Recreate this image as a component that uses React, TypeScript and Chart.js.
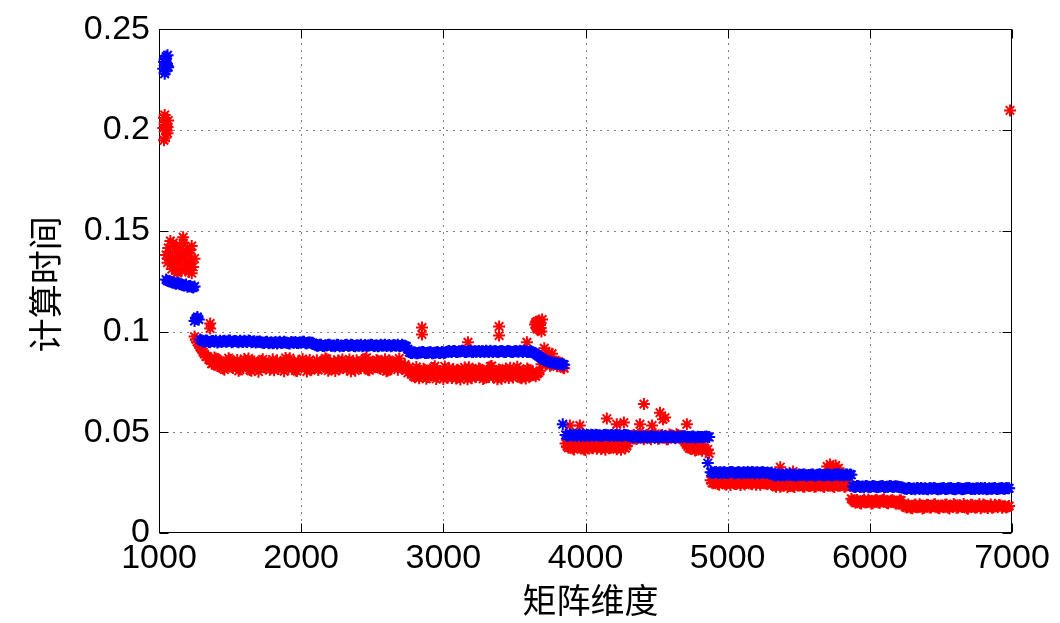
import React, { useEffect, useRef } from 'react';
import { Chart, registerables } from 'chart.js';

Chart.register(...registerables);

// Matrix dimension grids of the two interleaved sweeps (one sample per 20 each)
const DIM_START_A = 1040;
const DIM_START_B = 1050;
const DIM_STEP = 20;

const xTickValues = [1000, 2000, 3000, 4000, 5000, 6000, 7000];
const yTickValues = [0, 0.05, 0.1, 0.15, 0.2, 0.25];

const xTitle = '矩阵维度';
const yTitle = '计算时间';

// Blue series, sweep A: dims 1040, 1060, ... 6980
const blueTimesA = [
  0.2352, 0.2318,
  0.1248, 0.1244, 0.1237, 0.124, 0.1232, 0.1229, 0.1223, 0.1226, 0.1219,
  0.1064, 0.106,
  0.0957, 0.095, 0.0954, 0.0947, 0.0953, 0.0956, 0.0949, 0.0948, 0.0954, 0.0951,
  0.0955, 0.0949, 0.0953, 0.0947, 0.0951, 0.0954, 0.0948, 0.0953, 0.095, 0.0946,
  0.0949,
  0.0947, 0.0943, 0.0949, 0.0945, 0.0942, 0.0948, 0.0946, 0.0943, 0.0949, 0.0945,
  0.0941, 0.0946, 0.0948, 0.0943, 0.0945, 0.0949, 0.0942, 0.0946, 0.0944,
  0.0933, 0.093, 0.0935, 0.0928, 0.0931, 0.0934, 0.093, 0.0927, 0.0933, 0.0931,
  0.0928, 0.0934, 0.093, 0.0933, 0.0927, 0.0931, 0.0935, 0.093, 0.0928, 0.0931,
  0.0933, 0.093, 0.0927, 0.0934, 0.0931, 0.0928, 0.0933, 0.093, 0.0931, 0.0934,
  0.0928, 0.093, 0.0926,
  0.0898, 0.0893, 0.0896, 0.0892, 0.0895, 0.0899, 0.0893, 0.0896, 0.0892, 0.0895,
  0.0898, 0.0893, 0.0896, 0.0899,
  0.0903, 0.0899, 0.0904, 0.0898, 0.0901, 0.0905, 0.0899, 0.0902, 0.0898, 0.0904,
  0.0901, 0.0899, 0.0902, 0.0905, 0.0898, 0.0901, 0.0904, 0.0899, 0.0902, 0.0901,
  0.0898, 0.0904, 0.0899, 0.0902, 0.0901, 0.0905, 0.0899, 0.0902, 0.0898, 0.0901,
  0.0893, 0.0884, 0.0873, 0.0864, 0.0856, 0.0851, 0.0847, 0.0844, 0.0841, 0.0839,
  0.0837,
  0.0487, 0.0483, 0.0488, 0.0485, 0.0482, 0.0486, 0.0489, 0.0483, 0.0485, 0.0488,
  0.0482, 0.0486, 0.0485, 0.0483, 0.0488, 0.0485, 0.0486, 0.0482, 0.0485, 0.0488,
  0.0483, 0.0486, 0.0484,
  0.0479, 0.0475, 0.048, 0.0477, 0.0474, 0.0479, 0.0476, 0.048, 0.0477, 0.0478,
  0.0474, 0.0477, 0.048, 0.0475, 0.0479, 0.0477, 0.0474, 0.0478, 0.0475, 0.048,
  0.0477, 0.0475, 0.0479, 0.0474, 0.0477, 0.0476, 0.0478, 0.0477,
  0.0302, 0.0298, 0.0303, 0.03, 0.0297, 0.0302, 0.0298, 0.0303, 0.03, 0.0298,
  0.0302, 0.0297, 0.03, 0.0303, 0.0298, 0.0302, 0.03, 0.0297, 0.0302, 0.0298,
  0.03, 0.0297,
  0.029, 0.0286, 0.0291, 0.0288, 0.0285, 0.029, 0.0292, 0.0287, 0.0286, 0.0291,
  0.0288, 0.029, 0.0285, 0.0288, 0.0291, 0.0286, 0.029, 0.0288, 0.0285, 0.0291,
  0.0288, 0.0286, 0.029, 0.0292, 0.0288, 0.0286, 0.029, 0.0291,
  0.0232, 0.0228, 0.0233, 0.023, 0.0227, 0.0232, 0.0228, 0.0233, 0.023, 0.0228,
  0.0232, 0.0227, 0.023, 0.0233, 0.0228, 0.0232, 0.023, 0.0227,
  0.0222, 0.0218, 0.0223, 0.022, 0.0217, 0.0222, 0.0224, 0.022, 0.0218, 0.0223,
  0.022, 0.0222, 0.0217, 0.022, 0.0223, 0.0218, 0.0222, 0.022, 0.0217, 0.0223,
  0.022, 0.0218, 0.0222, 0.0224, 0.022, 0.0218, 0.0222, 0.0223, 0.022, 0.0217,
  0.0222, 0.022, 0.0223, 0.0218, 0.0222, 0.022, 0.0223, 0.0222,
];

// Blue series, sweep B: dims 1050, 1070, ... 6970
const blueTimesB = [
  0.2335, 0.125,
  0.1245, 0.124, 0.1242, 0.1235, 0.123, 0.1233, 0.1225, 0.1221, 0.1224,
  0.1066, 0.096,
  0.0951, 0.0955, 0.0948, 0.0953, 0.095, 0.0946, 0.0954, 0.0952, 0.0949, 0.0955,
  0.0947, 0.0953, 0.095, 0.0954, 0.0948, 0.0951, 0.0955, 0.0947, 0.0952, 0.0949,
  0.0951,
  0.0944, 0.0948, 0.0942, 0.0947, 0.0945, 0.0941, 0.0949, 0.0944, 0.0946, 0.0942,
  0.0948, 0.0945, 0.0943, 0.0947, 0.0949, 0.0942, 0.0946, 0.0944, 0.094,
  0.093, 0.0934, 0.0928, 0.0932, 0.0935, 0.0929, 0.0931, 0.0934, 0.0927, 0.093,
  0.0933, 0.0929, 0.0935, 0.0928, 0.0932, 0.093, 0.0927, 0.0933, 0.0931, 0.0935,
  0.0928, 0.0932, 0.093, 0.0929, 0.0934, 0.0931, 0.0927, 0.0933, 0.093, 0.0928,
  0.0934, 0.0929, 0.0912,
  0.0894, 0.0897, 0.0892, 0.0896, 0.0899, 0.0893, 0.0895, 0.0898, 0.0892, 0.0896,
  0.0894, 0.0898, 0.0893, 0.0901,
  0.09, 0.0904, 0.0898, 0.0902, 0.0905, 0.0899, 0.0901, 0.0903, 0.0898, 0.09,
  0.0904, 0.0902, 0.0899, 0.0901, 0.0905, 0.0898, 0.0902, 0.09, 0.0903, 0.0899,
  0.0904, 0.0901, 0.0898, 0.0903, 0.09, 0.0902, 0.0905, 0.0899, 0.0901, 0.0897,
  0.0889, 0.0878, 0.0868, 0.086, 0.0853, 0.0849, 0.0845, 0.0842, 0.084, 0.0838,
  0.0835,
  0.0484, 0.0488, 0.0483, 0.0486, 0.0489, 0.0482, 0.0485, 0.0487, 0.0483, 0.0486,
  0.0488, 0.0484, 0.0482, 0.0487, 0.0485, 0.0483, 0.0488, 0.0486, 0.0484, 0.0482,
  0.0487, 0.0485, 0.0481,
  0.0476, 0.0479, 0.0474, 0.0478, 0.048, 0.0475, 0.0477, 0.0479, 0.0474, 0.0476,
  0.048, 0.0478, 0.0475, 0.0477, 0.0479, 0.0474, 0.0478, 0.0476, 0.048, 0.0475,
  0.0477, 0.0479, 0.0474, 0.0478, 0.0476, 0.0475, 0.0479, 0.0476,
  0.0299, 0.0303, 0.0297, 0.0301, 0.0302, 0.0298, 0.03, 0.0303, 0.0297, 0.0301,
  0.0299, 0.0302, 0.0298, 0.03, 0.0303, 0.0297, 0.0301, 0.0299, 0.0302, 0.0298,
  0.0296, 0.03,
  0.0287, 0.0291, 0.0286, 0.0289, 0.0292, 0.0287, 0.0288, 0.029, 0.0285, 0.0289,
  0.0291, 0.0287, 0.0288, 0.029, 0.0286, 0.0289, 0.0292, 0.0287, 0.0288, 0.029,
  0.0286, 0.0289, 0.0291, 0.0287, 0.0288, 0.029, 0.0286, 0.0289,
  0.0229, 0.0233, 0.0228, 0.0231, 0.0233, 0.0229, 0.023, 0.0232, 0.0227, 0.0231,
  0.0233, 0.0228, 0.023, 0.0232, 0.0229, 0.0231, 0.0227, 0.0226,
  0.022, 0.0223, 0.0218, 0.0221, 0.0223, 0.0219, 0.022, 0.0222, 0.0217, 0.0221,
  0.0223, 0.0219, 0.022, 0.0222, 0.0218, 0.0221, 0.0223, 0.0219, 0.022, 0.0222,
  0.0217, 0.0221, 0.0223, 0.0218, 0.022, 0.0222, 0.0219, 0.0221, 0.0223, 0.0218,
  0.022, 0.0222, 0.0219, 0.0221, 0.0223, 0.022, 0.0222,
];

// Red series, sweep A: dims 1040, 1060, ... 6980
const redTimesA = [
  0.2038, 0.1985,
  0.1392, 0.1331, 0.1418, 0.1356, 0.1302, 0.1375, 0.1338, 0.1405, 0.1321,
  0.0962, 0.0935, 0.0912, 0.0888,
  0.0876, 0.0858, 0.0843, 0.0866, 0.0828, 0.0851, 0.0811, 0.0838, 0.086, 0.0819,
  0.0845, 0.0805, 0.0836, 0.0864, 0.0824, 0.0809, 0.085, 0.0833, 0.0801, 0.0855,
  0.0823, 0.0842, 0.081, 0.0862, 0.083, 0.0814, 0.0847, 0.0803, 0.0837, 0.0868,
  0.082, 0.0807, 0.0853, 0.0826, 0.0843, 0.0802, 0.0859, 0.0817, 0.0834, 0.0809,
  0.0849, 0.0825, 0.0863, 0.0813, 0.0839, 0.0804, 0.0856, 0.0822, 0.0844, 0.0812,
  0.0861, 0.0831, 0.0806, 0.0848, 0.0818, 0.0837, 0.087, 0.0808, 0.0841, 0.0824,
  0.0854, 0.0815, 0.0835, 0.0803, 0.0858, 0.0821, 0.0845, 0.0811, 0.0838, 0.0823,
  0.0808,
  0.0821, 0.079, 0.0773, 0.0807, 0.078, 0.0815, 0.0766, 0.0799, 0.0785, 0.0828,
  0.0776, 0.0803, 0.0764, 0.0793, 0.0818, 0.077, 0.0788, 0.081, 0.0762, 0.0797,
  0.0778, 0.0823, 0.0768, 0.0805, 0.0784, 0.0813, 0.0765, 0.0798, 0.0775, 0.0829,
  0.0789, 0.0763, 0.0808, 0.0781, 0.0817, 0.0769, 0.08, 0.0787, 0.0825, 0.0772,
  0.0804, 0.0767, 0.0811, 0.0782,
  0.0785, 0.079, 0.0805, 0.0855, 0.0842, 0.0868, 0.0835, 0.0852, 0.0828, 0.0845,
  0.0822,
  0.0444, 0.0423, 0.0437, 0.0415, 0.0449, 0.0428, 0.0434, 0.0412, 0.0441, 0.0425,
  0.0447, 0.0418, 0.0439, 0.0431, 0.0413, 0.0445, 0.0424, 0.0436, 0.0416, 0.0442,
  0.043, 0.0421, 0.0448,
  0.0472, 0.0486, 0.0467, 0.048, 0.0491, 0.0474, 0.0484, 0.0465, 0.0489, 0.0477,
  0.047, 0.0487, 0.0479, 0.0466, 0.0485, 0.0475, 0.049, 0.0471, 0.0482,
  0.0452, 0.043, 0.0418, 0.0436, 0.0412, 0.0425, 0.0408, 0.042, 0.0415,
  0.0262, 0.0247, 0.0256, 0.024, 0.0259, 0.0245, 0.0252, 0.0238, 0.0261, 0.0243,
  0.0251, 0.0258, 0.0241, 0.0254, 0.0246, 0.0262, 0.0239, 0.0253, 0.0248, 0.0257,
  0.0242, 0.025,
  0.0244, 0.0229, 0.0248, 0.0234, 0.024, 0.0227, 0.0246, 0.0232, 0.0243, 0.0236,
  0.025, 0.0229, 0.0241, 0.0233, 0.0247, 0.0231, 0.0239, 0.0245, 0.0228, 0.0238,
  0.0249, 0.0232, 0.0241, 0.0235, 0.0246, 0.023, 0.0239, 0.0233,
  0.0163, 0.015, 0.0158, 0.0146, 0.0165, 0.0153, 0.0159, 0.0148, 0.0164, 0.0151,
  0.0157, 0.0166, 0.0149, 0.0156, 0.0162, 0.0147, 0.0155, 0.0161,
  0.0139, 0.0126, 0.0134, 0.0123, 0.0142, 0.0129, 0.0136, 0.0124, 0.014, 0.0127,
  0.0133, 0.0143, 0.0125, 0.0135, 0.0128, 0.0141, 0.0122, 0.0132, 0.0138, 0.0126,
  0.0134, 0.0144, 0.0124, 0.0131, 0.0139, 0.0127, 0.0135, 0.0123, 0.0141, 0.013,
  0.0133, 0.0125, 0.014, 0.0128, 0.0136, 0.0131, 0.0126, 0.0134,
];

// Red series, sweep B: dims 1050, 1070, ... 6970
const redTimesB = [
  0.2005, 0.1368,
  0.1348, 0.1412, 0.1297, 0.1385, 0.144, 0.1316, 0.1392, 0.129, 0.1362,
  0.0948, 0.0922, 0.0898, 0.0876,
  0.0862, 0.084, 0.0871, 0.0829, 0.0855, 0.0817, 0.0846, 0.0868, 0.0824, 0.0837,
  0.0859, 0.0812, 0.0843, 0.0828, 0.0866, 0.0805, 0.0851, 0.082, 0.0839, 0.0862,
  0.0816, 0.0847, 0.0831, 0.0808, 0.0857, 0.0826, 0.0844, 0.0869, 0.0813, 0.0835,
  0.0852, 0.0804, 0.084, 0.0864, 0.0822, 0.0848, 0.081, 0.0833, 0.0858, 0.0819,
  0.0845, 0.0867, 0.0806, 0.0836, 0.0853, 0.0827, 0.0814, 0.0861, 0.083, 0.0849,
  0.0803, 0.0842, 0.0857, 0.0821, 0.0834, 0.0865, 0.0811, 0.0846, 0.0825, 0.0859,
  0.0818, 0.0839, 0.0862, 0.0807, 0.085, 0.0829, 0.0843, 0.0866, 0.0815, 0.0836,
  0.0795,
  0.0803, 0.0779, 0.0824, 0.0768, 0.0796, 0.0811, 0.0774, 0.0788, 0.0819, 0.0765,
  0.08, 0.0783, 0.0827, 0.0771, 0.0792, 0.0814, 0.0767, 0.0806, 0.078, 0.0822,
  0.0763, 0.0795, 0.0809, 0.0776, 0.0817, 0.0786, 0.077, 0.0801, 0.0826, 0.0774,
  0.0793, 0.0812, 0.0766, 0.0805, 0.0782, 0.082, 0.0772, 0.0798, 0.081, 0.0768,
  0.079, 0.0816, 0.0779, 0.0802,
  0.0778, 0.0796, 0.0838, 0.0862, 0.0848, 0.083, 0.0858, 0.084, 0.085, 0.0832,
  0.0818,
  0.0431, 0.0446, 0.0419, 0.0438, 0.0427, 0.045, 0.0414, 0.044, 0.0433, 0.0421,
  0.0447, 0.0428, 0.0417, 0.0443, 0.0435, 0.0422, 0.0449, 0.0426, 0.0439, 0.0413,
  0.0444, 0.0432, 0.0462,
  0.0483, 0.0469, 0.049, 0.0476, 0.0465, 0.0487, 0.0473, 0.0481, 0.0492, 0.0468,
  0.0484, 0.0474, 0.0466, 0.0489, 0.0478, 0.047, 0.0486, 0.048, 0.0462,
  0.044, 0.0422, 0.0433, 0.041, 0.0428, 0.0416, 0.0424, 0.0411, 0.0395,
  0.0249, 0.0259, 0.0243, 0.0255, 0.0262, 0.024, 0.0251, 0.0257, 0.0245, 0.026,
  0.0238, 0.0253, 0.0248, 0.0261, 0.0242, 0.0256, 0.025, 0.0239, 0.0258, 0.0246,
  0.0254, 0.0241,
  0.0236, 0.0247, 0.023, 0.0242, 0.0249, 0.0233, 0.024, 0.0228, 0.0245, 0.0238,
  0.0231, 0.0248, 0.0235, 0.0243, 0.0229, 0.0246, 0.0237, 0.0232, 0.025, 0.0234,
  0.0241, 0.0228, 0.0244, 0.0236, 0.0247, 0.0231, 0.0239, 0.017,
  0.0156, 0.0164, 0.0149, 0.016, 0.0153, 0.0166, 0.0147, 0.0158, 0.0162, 0.015,
  0.0165, 0.0155, 0.0148, 0.0161, 0.0157, 0.0146, 0.0163, 0.0138,
  0.013, 0.0141, 0.0124, 0.0137, 0.0128, 0.0143, 0.0122, 0.0134, 0.0139, 0.0126,
  0.0142, 0.0131, 0.0123, 0.0136, 0.014, 0.0127, 0.0133, 0.0144, 0.0125, 0.0138,
  0.0129, 0.0135, 0.0121, 0.014, 0.0132, 0.0126, 0.0143, 0.013, 0.0137, 0.0124,
  0.0141, 0.0128, 0.0135, 0.0139, 0.0125, 0.0133, 0.013,
];

// Extra (repeated / outlier) blue measurements
const blueExtraDims = [1030, 1035, 1045, 1050, 1055, 1065, 1040, 1060, 1060, 1050, 1250, 1270, 3840, 4860];
const blueExtraTimes = [0.2305, 0.234, 0.2292, 0.2365, 0.2328, 0.2312, 0.228, 0.2372, 0.1252, 0.1258, 0.1052, 0.1072, 0.054, 0.0347];

// Extra (repeated / outlier) red measurements
const redExtraDims = [
  1030, 1035, 1045, 1050, 1055, 1065, 1035, 1040, 1060,
  1050, 1060, 1065, 1090, 1110, 1130, 1150, 1190, 1210, 1230, 1100, 1140, 1170, 1200, 1220,
  1080, 1170, 1230,
  1250, 1270, 1290,
  1360, 1360,
  2850, 2850, 3173, 3392, 3392, 3588,
  3645, 3650, 3655, 3660, 3665, 3670, 3675, 3680, 3685, 3690, 3695, 3660, 3675,
  3710, 3765, 3720, 3745,
  3890, 3960, 4150, 4220, 4270, 4383, 4411, 4468, 4524, 4545, 4560, 4713,
  5250, 5370, 5460, 5700, 5720, 5740, 5760, 5780,
  6986,
];
const redExtraTimes = [
  0.201, 0.2062, 0.1962, 0.2025, 0.1998, 0.2048, 0.195, 0.2075, 0.2015,
  0.138, 0.1342, 0.1415, 0.131, 0.1365, 0.129, 0.1428, 0.1348, 0.1296, 0.1362, 0.144, 0.1335, 0.1395, 0.141, 0.1305,
  0.145, 0.1468, 0.1425,
  0.0975, 0.095, 0.0925,
  0.104, 0.1015,
  0.102, 0.0986, 0.0947, 0.1025, 0.098, 0.0947,
  0.1035, 0.1045, 0.102, 0.105, 0.1028, 0.104, 0.101, 0.1032, 0.1018, 0.1, 0.106, 0.1012, 0.1055,
  0.0917, 0.089, 0.088, 0.0895,
  0.0534, 0.0534, 0.0568, 0.054, 0.0548, 0.054, 0.064, 0.0534, 0.0597, 0.0565, 0.0573, 0.054,
  0.03, 0.0327, 0.0305, 0.033, 0.034, 0.0328, 0.0335, 0.0322,
  0.2098,
];

const BLUE = '#0000ff';
const RED = '#ff0000';

function gridPoints(start: number, times: number[]) {
  return times.map((t, i) => ({ x: start + DIM_STEP * i, y: t }));
}
function pairPoints(dims: number[], times: number[]) {
  return times.map((t, i) => ({ x: dims[i], y: t }));
}

const framePlugin = {
  id: 'matlabFrame',
  beforeDatasetsDraw(chart: any) {
    const { ctx, chartArea: a, scales } = chart;
    const xs = scales.x;
    const ys = scales.y;
    const L = Math.round(a.left) + 0.5;
    const R = Math.round(a.right) - 0.5;
    const T = Math.round(a.top) + 0.5;
    const B = Math.round(a.bottom) - 0.5;
    ctx.save();
    ctx.lineWidth = 1;
    ctx.strokeStyle = '#000';
    ctx.setLineDash([1, 6]);
    ctx.beginPath();
    xTickValues.forEach((v) => {
      const px = Math.round(xs.getPixelForValue(v)) + 0.5;
      if (px > L + 1 && px < R - 1) {
        ctx.moveTo(px, T);
        ctx.lineTo(px, B);
      }
    });
    yTickValues.forEach((v) => {
      const py = Math.round(ys.getPixelForValue(v)) + 0.5;
      if (py > T + 1 && py < B - 1) {
        ctx.moveTo(L, py);
        ctx.lineTo(R, py);
      }
    });
    ctx.stroke();
    ctx.setLineDash([]);
    const tl = 9;
    ctx.beginPath();
    xTickValues.forEach((v) => {
      const px = Math.round(xs.getPixelForValue(v)) + 0.5;
      ctx.moveTo(px, B);
      ctx.lineTo(px, B - tl);
      ctx.moveTo(px, T);
      ctx.lineTo(px, T + tl);
    });
    yTickValues.forEach((v) => {
      const py = Math.round(ys.getPixelForValue(v)) + 0.5;
      ctx.moveTo(L, py);
      ctx.lineTo(L + tl, py);
      ctx.moveTo(R, py);
      ctx.lineTo(R - tl, py);
    });
    ctx.stroke();
    ctx.strokeRect(L, T, R - L, B - T);
    ctx.restore();
  },
  afterDraw(chart: any) {
    const { ctx, chartArea: a } = chart;
    ctx.save();
    ctx.fillStyle = '#000';
    ctx.font = '34px "Noto Sans CJK SC", sans-serif';
    ctx.textAlign = 'center';
    ctx.textBaseline = 'middle';
    ctx.fillText(xTitle, (a.left + a.right) / 2 + 5, a.bottom + 67);
    ctx.translate(a.left - 114, (a.top + a.bottom) / 2 + 3);
    ctx.rotate(-Math.PI / 2);
    ctx.fillText(yTitle, 0, 0);
    ctx.restore();
  },
};

export default function App() {
  const canvasRef = useRef<HTMLCanvasElement | null>(null);

  useEffect(() => {
    const canvas = canvasRef.current;
    if (!canvas) return;
    const common = {
      pointStyle: 'star',
      pointRadius: 6,
      pointBorderWidth: 2,
      showLine: false,
      clip: false,
    };
    const chart = new Chart(canvas, {
      type: 'scatter',
      data: {
        datasets: [
          { ...common, label: 'blue A', data: gridPoints(DIM_START_A, blueTimesA), borderColor: BLUE, backgroundColor: BLUE },
          { ...common, label: 'blue B', data: gridPoints(DIM_START_B, blueTimesB), borderColor: BLUE, backgroundColor: BLUE },
          { ...common, label: 'blue extra', data: pairPoints(blueExtraDims, blueExtraTimes), borderColor: BLUE, backgroundColor: BLUE },
          { ...common, label: 'red A', data: gridPoints(DIM_START_A, redTimesA), borderColor: RED, backgroundColor: RED },
          { ...common, label: 'red B', data: gridPoints(DIM_START_B, redTimesB), borderColor: RED, backgroundColor: RED },
          { ...common, label: 'red extra', data: pairPoints(redExtraDims, redExtraTimes), borderColor: RED, backgroundColor: RED },
        ],
      } as any,
      options: {
        animation: false,
        responsive: false,
        maintainAspectRatio: false,
        devicePixelRatio: 1,
        layout: { padding: { top: 25, right: 48, left: 0, bottom: 0 } },
        plugins: {
          legend: { display: false },
          tooltip: { enabled: false },
        },
        events: [],
        scales: {
          x: {
            type: 'linear',
            min: 1000,
            max: 7000,
            grid: { display: false, drawTicks: false },
            border: { display: false },
            afterFit: (s: any) => {
              s.height = 90;
            },
            afterBuildTicks: (s: any) => {
              s.ticks = xTickValues.map((v) => ({ value: v }));
            },
            ticks: {
              autoSkip: false,
              maxRotation: 0,
              padding: 5,
              color: '#000',
              font: { family: '"Liberation Sans", Arial, sans-serif', size: 34 },
              callback: (v: any) => String(v),
            },
          },
          y: {
            type: 'linear',
            min: 0,
            max: 0.25,
            grid: { display: false, drawTicks: false },
            border: { display: false },
            afterFit: (s: any) => {
              s.width = 159;
            },
            afterBuildTicks: (s: any) => {
              s.ticks = yTickValues.map((v) => ({ value: v }));
            },
            ticks: {
              autoSkip: false,
              padding: 9,
              color: '#000',
              font: { family: '"Liberation Sans", Arial, sans-serif', size: 34 },
              callback: (v: any) => String(Number(Number(v).toFixed(2))),
            },
          },
        },
      } as any,
      plugins: [framePlugin],
    });
    return () => chart.destroy();
  }, []);

  return (
    <div style={{ position: 'fixed', left: 0, top: 0, width: 1060, height: 623, background: '#fff' }}>
      <canvas ref={canvasRef} width={1060} height={623} style={{ display: 'block', width: 1060, height: 623 }} />
    </div>
  );
}
